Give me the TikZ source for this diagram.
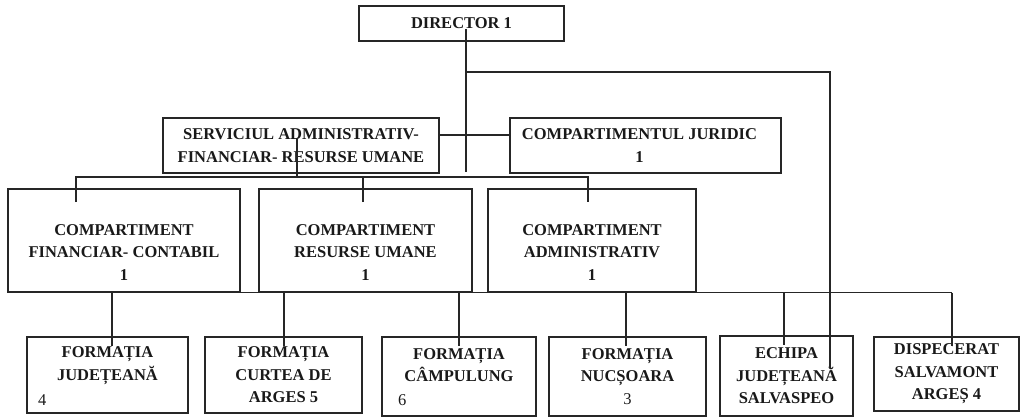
\documentclass[tikz,border=0pt]{standalone}
\usepackage{fontspec}
\setmainfont{Liberation Serif}
\begin{document}
\begin{tikzpicture}[x=1pt,y=-1pt]
   \tikzstyle{every node}=[font=\fontsize{16.5}{22.5}\selectfont\bfseries, align=center, text=black!90]
   \tikzstyle{box}=[draw=black!85, line width=1.4pt, inner sep=0pt]
   \tikzstyle{num}=[font=\fontsize{16.5}{22.5}\selectfont, inner sep=0pt]
   \tikzstyle{link}=[draw=black!85, line width=1.3pt]

\useasboundingbox (0,0) rectangle (1035,417);

\node[box, minimum width=205pt, minimum height=35pt] (dir) at (461.5,23.5) {\raisebox{-2pt}{DIRECTOR 1}};

\node[box, minimum width=276pt, minimum height=55pt] (serv) at (301,145.5) {SERVICIUL ADMINISTRATIV-\\FINANCIAR- RESURSE UMANE};
\node[box, minimum width=271pt, minimum height=55pt] (jur) at (645.5,145.5) {\hspace*{-12pt}COMPARTIMENTUL JURIDIC\\\hspace*{-12pt}1};

\node[box, minimum width=232pt, minimum height=103pt] (fc) at (124,240.5) {};
\node (fc-t) at (124,252.5) {COMPARTIMENT\\FINANCIAR- CONTABIL\\1};
\node[box, minimum width=213pt, minimum height=103pt] (ru) at (365.5,240.5) {};
\node (ru-t) at (365.5,252.5) {COMPARTIMENT\\RESURSE UMANE\\1};
\node[box, minimum width=208pt, minimum height=103pt] (adm) at (592,240.5) {};
\node (adm-t) at (592,252.5) {COMPARTIMENT\\ADMINISTRATIV\\1};

\node[box, minimum width=161pt, minimum height=76pt] (fj) at (107.5,375) {FORMAȚIA\\JUDEȚEANĂ\\\phantom{4}};
\node[num, anchor=west] (fj-n) at (38,400) {4};
\node[box, minimum width=157pt, minimum height=76pt] (fcu) at (283.5,375) {FORMAȚIA\\CURTEA DE\\ARGES 5};
\node[box, minimum width=154pt, minimum height=79pt] (fca) at (459,376.5) {FORMAȚIA\\CÂMPULUNG\\\phantom{6}};
\node[num, anchor=west] (fca-n) at (398,400) {6};
\node[box, minimum width=157pt, minimum height=79pt] (fn) at (627.5,376.5) {FORMAȚIA\\NUCȘOARA\\\textmd{3}};
\node[box, minimum width=133pt, minimum height=80pt] (ech) at (786.5,376) {ECHIPA\\JUDEȚEANĂ\\SALVASPEO};
\node[box, minimum width=145pt, minimum height=74pt] (dis) at (946.5,374) {DISPECERAT\\SALVAMONT\\ARGEȘ 4};

\coordinate (dtop) at (466,29);
\coordinate (dend) at (466,172);
\coordinate (dbranch) at (466,72);
\coordinate (ech-in) at (830,368);
\draw[link] (dtop) -- (dend);
\draw[link] (dbranch) -| (ech-in);

\draw[link] ([yshift=10.5pt]serv.east) -- ([yshift=10.5pt]jur.west);

\coordinate (stop) at (297,138);
\coordinate (sbus) at (297,177);
\coordinate (fc-in) at (76,202);
\coordinate (ru-in) at (363,202);
\coordinate (adm-in) at (588,202);
\draw[link] (stop) -- (sbus);
\draw[link] (fc-in) -- (fc-in |- sbus) -- (adm-in |- sbus) -- (adm-in);
\draw[link] (ru-in) -- (ru-in |- sbus);

\draw[link] (fc.south -| 112,0) -- (fc.south -| 952,0);
\foreach \n/\x in {fj/112, fcu/284, fca/459, fn/626, ech/784, dis/952}
   \draw[link] (fc.south -| \x,0) -- (\n.north -| \x,0) -- ++(0,10);

\end{tikzpicture}
\end{document}
